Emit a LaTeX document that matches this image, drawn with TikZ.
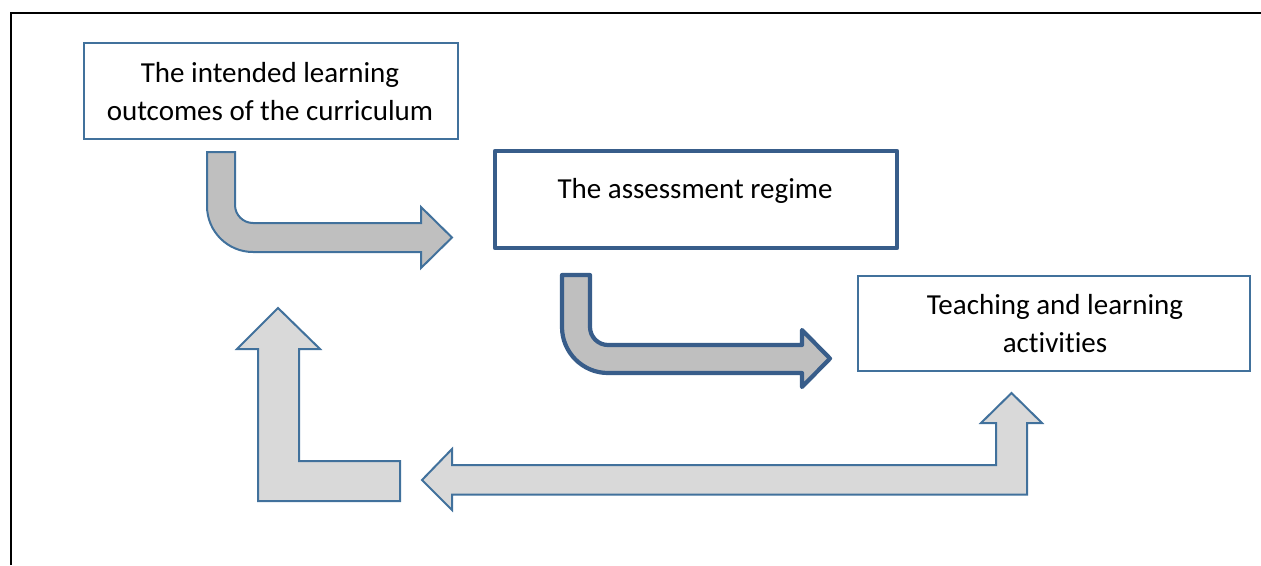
\documentclass[tikz,border=0pt]{standalone}
\usepackage{fontspec}
\setmainfont{Carlito}[Ligatures=NoCommon]
\definecolor{thinblue}{HTML}{41719C}
\definecolor{thickblue}{HTML}{385D8A}
\definecolor{darkgrayfill}{HTML}{BFBFBF}
\definecolor{lightgrayfill}{HTML}{D9D9D9}
\tikzset{
  boxthin/.style={draw=thinblue, line width=2pt, fill=white, minimum width=#1, inner sep=0pt},
  boxthick/.style={draw=thickblue, line width=4.2pt, line join=round, fill=white, inner sep=0pt},
  labeltext/.style={font=\fontsize{29}{38}\selectfont, align=center, inner sep=0pt, anchor=base},
  arrowthin/.style={draw=thinblue, line width=2pt, line join=miter},
  arrowthick/.style={draw=thickblue, line width=4.2pt, line join=round},
}
\begin{document}
\begin{tikzpicture}[x=1pt, y=-1pt]
\useasboundingbox (0,0) rectangle (1261,565);
% outer frame
\draw[black, line width=2.2pt] (11,565) -- (11,13) -- (1261,13);
% boxes
\node[boxthin=374pt, minimum height=96pt] (lo) at (271,91) {};
\node[boxthick, minimum width=402pt, minimum height=97pt] (ar) at (696,199.5) {};
\node[boxthin=392pt, minimum height=95pt] (tla) at (1054,323.5) {};
% texts (anchor=base is the baseline of the last line)
\node[labeltext] (lotext) at (270,120) {The intended learning\\outcomes of the curriculum};
\node[labeltext] (artext) at (695,198) {The assessment regime};
\node[labeltext] (tlatext) at (1055,352) {Teaching and learning\\activities};
% arrow 1 (outcomes -> assessment)
\filldraw[arrowthin, fill=darkgrayfill]
  (207,152) -- (235,152) -- (235,205)
  .. controls (235,214.9) and (243.1,223) .. (253,223)
  -- (421,223) -- (421,207) -- (452,237.5) -- (421,268) -- (421,252) -- (253,252)
  .. controls (227.6,252) and (207,231.4) .. (207,206) -- cycle;
% arrow 2 (assessment -> teaching)
\filldraw[arrowthick, fill=darkgrayfill]
  (562,275) -- (590,275) -- (590,327)
  .. controls (590,336.9) and (598.1,345) .. (608,345)
  -- (802,345) -- (802,330) -- (830,358.5) -- (802,387) -- (802,373) -- (608,373)
  .. controls (582.6,373) and (562,352.4) .. (562,327) -- cycle;
% arrow 3 (up to outcomes)
\filldraw[arrowthin, fill=lightgrayfill]
  (278,308) -- (320,349) -- (299,349) -- (299,461) -- (400,461) -- (400,501)
  -- (258,501) -- (258,349) -- (237,349) -- cycle;
% arrow 4 (teaching -> left, up)
\filldraw[arrowthin, fill=lightgrayfill]
  (422,480) -- (452,449) -- (452,465) -- (996,465) -- (996,423) -- (981,423)
  -- (1011.5,393) -- (1042,423) -- (1027,423) -- (1027,494.5) -- (452,494.5)
  -- (452,510) -- cycle;
\end{tikzpicture}
\end{document}
